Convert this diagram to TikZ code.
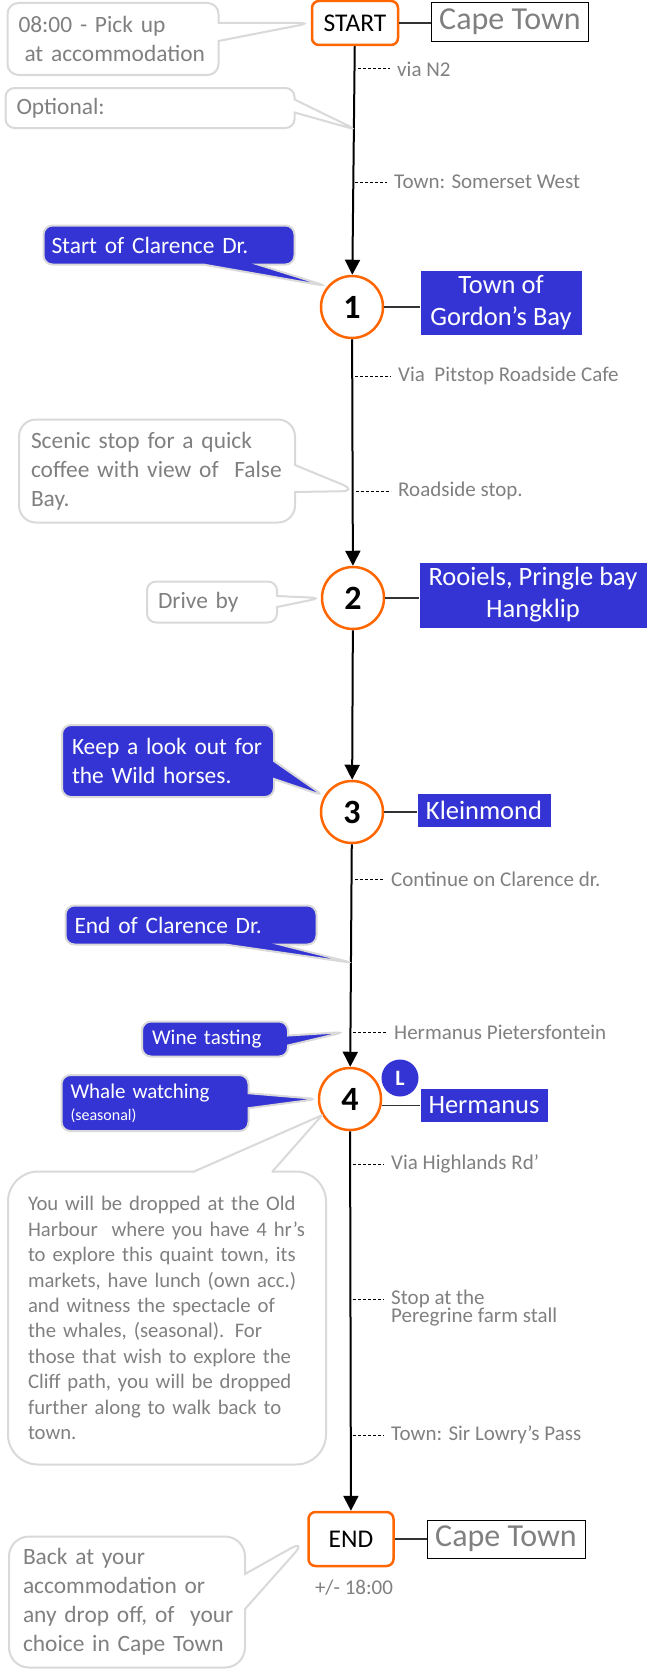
\documentclass[tikz,border=0pt]{standalone}
\usepackage{fontspec}
\setmainfont{Carlito}
\usetikzlibrary{shapes.callouts,arrows.meta}

\definecolor{stoporange}{RGB}{255,102,0}
\definecolor{townblue}{RGB}{52,52,212}
\definecolor{notegrey}{RGB}{217,217,217}
\definecolor{textgrey}{RGB}{128,128,128}

\tikzset{
  stopcircle/.style={circle, draw=stoporange, line width=2.5pt, fill=white, minimum size=62pt, inner sep=0pt, font=\bfseries\fontsize{34}{40}\selectfont},
  endbox/.style={rectangle, rounded corners=7pt, draw=stoporange, line width=2.5pt, fill=white, inner sep=0pt, font=\fontsize{25.5}{30}\selectfont},
  citybox/.style={rectangle, draw=black, line width=1pt, text=textgrey, inner sep=0pt, font=\fontsize{32}{36}\selectfont},
  townbox/.style={rectangle, fill=townblue, text=white, align=center, inner sep=0pt, font=\fontsize{26.5}{32}\selectfont},
  notebox/.style={rectangle, rounded corners=9pt, draw=notegrey, line width=2pt, fill=white, text=textgrey, align=left, inner ysep=0pt, font=\fontsize{23.4}{29}\selectfont, execute at begin node={\hyphenpenalty=10000}},
  greynote/.style={notebox, rectangle callout},
  bluenote/.style={greynote, fill=townblue, text=white},
  vialabel/.style={anchor=west, text=textgrey, inner xsep=7pt, inner ysep=0pt, font=\fontsize{21}{25.5}\selectfont},
  viatick/.style={dash pattern=on 3pt off 2pt, line width=1pt, shorten <=3pt},
  route/.style={line width=2pt, -{Triangle[length=15pt,width=15pt]}},
  link/.style={line width=1.2pt, draw=black!80}
}

\begin{document}
\begin{tikzpicture}
\useasboundingbox (0pt,0pt) rectangle (656pt,-1670pt);

% stops on the route
\node[endbox, minimum width=86pt, minimum height=44pt] (start) at (355pt,-23pt) {START};
\node[stopcircle] (one) at (352pt,-307pt) {1};
\node[stopcircle] (two) at (353pt,-598pt) {2};
\node[stopcircle] (three) at (352pt,-812pt) {3};
\node[stopcircle] (four) at (350pt,-1099pt) {4};
\node[endbox, minimum width=85pt, minimum height=54pt] (finish) at (351pt,-1539pt) {END};
\node[circle, fill=townblue, text=white, minimum size=37pt, inner sep=0pt, font=\bfseries\fontsize{22}{26}\selectfont] (lunch) at (400pt,-1078pt) {L};
\node[text=textgrey, font=\fontsize{21}{25}\selectfont] (back) at (354pt,-1588pt) {+/- 18:00};

\draw[route] (start) -- (one);
\draw[route] (one) -- (two);
\draw[route] (two) -- (three);
\draw[route] (three) -- (four);
\draw[route] (four) -- (finish);

% places
\node[citybox, minimum width=157pt, minimum height=39pt] (capetop) at (510pt,-22pt) {Cape Town};
\node[townbox, minimum width=161pt, minimum height=64pt] (gordon) at (501pt,-303pt) {Town of\\Gordon’s Bay};
\node[townbox, minimum width=227pt, minimum height=65pt] (rooiels) at (533pt,-595pt) {Rooiels, Pringle bay\\Hangklip};
\node[townbox, minimum width=133pt, minimum height=33pt] (kleinmond) at (484pt,-810pt) {Kleinmond};
\node[townbox, minimum width=127pt, minimum height=33pt] (hermanus) at (484pt,-1105pt) {Hermanus};
\node[citybox, minimum width=158pt, minimum height=38pt] (capeend) at (506pt,-1539pt) {Cape Town};

\draw[link] (start.east) -- (start.east -| capetop.west);
\draw[link] (one.east) -- (one.east -| gordon.west);
\draw[link] (two.east) -- (two.east -| rooiels.west);
\draw[link] (three.east) -- (three.east -| kleinmond.west);
\draw[link] (four.-12) -- (four.-12 -| hermanus.west);
\draw[link] (finish.east) -- (finish.east -| capeend.west);

% road notes
\node[vialabel] (n2) at (390pt,-69pt) {via N2};
\node[vialabel] (somerset) at (387pt,-182pt) {Town: Somerset West};
\node[vialabel] (pitstop) at (391pt,-376pt) {Via\ \ Pitstop Roadside Cafe};
\node[vialabel] (roadside) at (391pt,-491pt) {Roadside stop.};
\node[vialabel] (continue) at (384pt,-879pt) {Continue on Clarence dr.};
\node[vialabel] (pieters) at (387pt,-1032pt) {Hermanus Pietersfontein};
\node[vialabel] (highlands) at (384pt,-1164pt) {Via Highlands Rd’};
\node[vialabel] (peregrine) at (384pt,-1299pt) {Stop at the};
\node[vialabel, anchor=north west] (peregrine2) at (peregrine.south west) {Peregrine farm stall};
\node[vialabel] (sirlowry) at (384pt,-1435pt) {Town: Sir Lowry’s Pass};

\draw[viatick] (n2.west -| start.south) -- (n2.west);
\draw[viatick] (somerset.west -| one.north) -- (somerset.west);
\draw[viatick] (pitstop.west -| one.south) -- (pitstop.west);
\draw[viatick] (roadside.west -| two.north) -- (roadside.west);
\draw[viatick] (continue.west -| three.south) -- (continue.west);
\draw[viatick] (pieters.west -| four.north) -- (pieters.west);
\draw[viatick] (highlands.west -| four.south) -- (highlands.west);
\draw[viatick] (peregrine.west -| four.south) -- (peregrine.west);
\draw[viatick] (sirlowry.west -| four.south) -- (sirlowry.west);

% callouts
\coordinate (optpt) at (357pt,-130pt);
\coordinate (scenicpt) at (358pt,-491pt);
\coordinate (endpt) at (353pt,-963pt);
\coordinate (winept) at (345pt,-1032pt);

\node[greynote, inner xsep=9pt, text width=193pt, minimum height=72pt, rounded corners=11pt, callout pointer width=18pt, callout absolute pointer={(start.west)}] (pickup) at (113pt,-39pt) {\hspace*{2pt}08:00 - Pick up\\\hspace*{8pt}at accommodation};
\node[greynote, inner xsep=11pt, text width=267pt, minimum height=40pt, callout pointer width=13pt, callout absolute pointer={(optpt)}] (optional) at (150pt,-108pt) {Optional:};
\node[bluenote, inner xsep=8pt, text width=235pt, minimum height=39pt, callout pointer width=55pt, callout absolute pointer={(one.140)}] (startcl) at (169pt,-245pt) {Start of Clarence Dr.};
\node[greynote, inner xsep=12pt, text width=252pt, minimum height=103pt, rounded corners=17pt, callout pointer width=27pt, callout absolute pointer={(scenicpt)}] (scenic) at (157pt,-471pt) {Scenic stop for a quick\\coffee with view of\ \ False\\Bay.};
\node[greynote, inner xsep=11pt, text width=108pt, minimum height=41pt, callout pointer width=11pt, callout absolute pointer={(two.west)}] (driveby) at (212pt,-602pt) {Drive by};
\node[bluenote, inner xsep=10pt, text width=192pt, minimum height=72pt, callout pointer width=18pt, callout absolute pointer={(three.150)}] (horses) at (168pt,-761pt) {Keep a look out for\\the Wild horses.};
\node[bluenote, inner xsep=9pt, text width=233pt, minimum height=39pt, callout pointer width=55pt, callout absolute pointer={(endpt)}] (endcl) at (191pt,-925pt) {End of Clarence Dr.};
\node[bluenote, inner xsep=10pt, text width=126pt, minimum height=35pt, callout pointer width=10pt, callout absolute pointer={(winept)}, font=\fontsize{21}{25}\selectfont] (wine) at (215pt,-1039pt) {Wine tasting};
\node[bluenote, inner xsep=9pt, text width=169pt, minimum height=56pt, callout pointer width=15pt, callout absolute pointer={(four.west)}, font=\fontsize{21}{22}\selectfont] (whale) at (155pt,-1103pt) {Whale watching\\{\fontsize{16}{18}\selectfont (seasonal)}};

% Hermanus note, pointer drawn on its own
\node[notebox, inner xsep=20pt, text width=278pt, minimum height=293pt, rounded corners=30pt, font=\fontsize{20.7}{25.4}\selectfont] (harbour) at (167pt,-1318pt) {You will be dropped at the Old\\Harbour~~where~you~have~4~hr’s\\to explore this quaint town, its\\markets, have lunch (own acc.)\\and witness the spectacle of\\the whales, (seasonal). For\\those that wish to explore the\\Cliff path, you will be dropped\\further along to walk back to\\town.};
\coordinate (hleft) at (193pt,-1172pt);
\coordinate (hright) at (272pt,-1172pt);
\fill[white] ([yshift=-3pt]hleft) -- (hleft) -- (four.210) -- (hright) -- ([yshift=-3pt]hright) -- cycle;
\draw[notegrey, line width=2pt, line join=round] (hleft) -- (four.210) -- (hright);

\node[greynote, inner xsep=12pt, text width=212pt, minimum height=131pt, rounded corners=20pt, callout pointer width=35pt, callout absolute pointer={(finish.west)}] (backat) at (127pt,-1602pt) {\hspace*{2pt}Back at your\\\hspace*{2pt}accommodation or\\\hspace*{2pt}any~drop~off,~of~~your\\\hspace*{2pt}choice in Cape Town};
\end{tikzpicture}
\end{document}
